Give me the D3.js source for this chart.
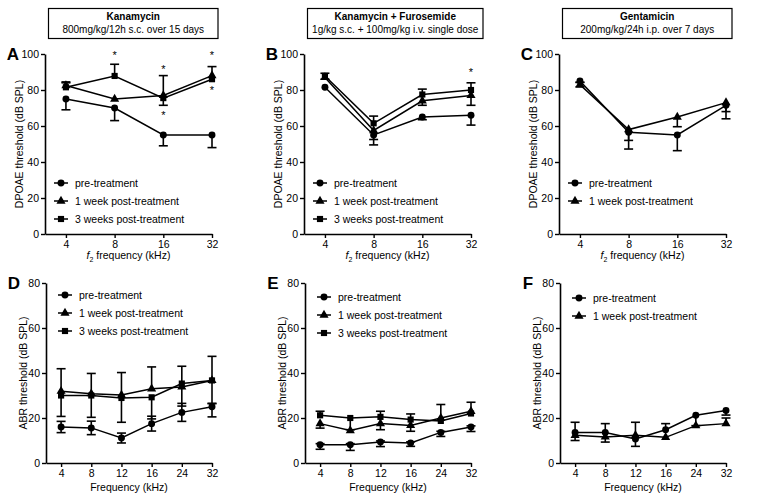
<!DOCTYPE html>
<html><head><meta charset="utf-8">
<script src="https://cdn.jsdelivr.net/npm/d3@7"></script>
<style>body{margin:0;background:#fff;} text{font-family:"Liberation Sans",Arial,sans-serif;fill:#000;}</style>
</head><body><svg id="c" width="759" height="504"></svg>
<script>
// ---------- DATA ----------
const dpoaeFreqs = [4, 8, 16, 32];
const abrFreqs = [4, 8, 12, 16, 24, 32];
const seriesNames = ["pre-treatment", "1 week post-treatment", "3 weeks post-treatment"];
const dpoaeTicks = [0, 20, 40, 60, 80, 100];
const abrTicks = [0, 20, 40, 60, 80];
const panelLetters = ["A", "B", "C", "D", "E", "F"];
const drugTitles = ["Kanamycin", "Kanamycin + Furosemide", "Gentamicin"];
const drugDoses = ["800mg/kg/12h s.c. over 15 days", "1g/kg s.c. + 100mg/kg i.v. single dose", "200mg/kg/24h i.p. over 7 days"];

// Panel A (DPOAE, kanamycin)
const aPre = [75, 70, 55, 55],      aPreLo = [6, 7, 6, 7],   aPreHi = [0, 0, 0, 0];
const aWk1 = [82.5, 75, 77, 88],    aWk1Lo = [0, 0, 0, 0],   aWk1Hi = [1.5, 0, 11, 0];
const aWk3 = [81.5, 87.8, 75.5, 86],aWk3Lo = [0, 0, 4, 0],   aWk3Hi = [3, 6.5, 0, 7];
const aStars = [[8, 100.4], [16, 93], [16, 67.4], [32, 100.4], [32, 81]];
// Panel B (DPOAE, kanamycin + furosemide)
const bPre = [81.5, 55, 65, 66],    bPreLo = [0, 5.5, 1.5, 5.5], bPreHi = [0, 0, 0, 0];
const bWk1 = [87, 57.5, 74, 77],    bWk1Lo = [1, 5, 2.5, 5.5],   bWk1Hi = [0, 0, 0, 0];
const bWk3 = [87.8, 61.5, 77.5, 80],bWk3Lo = [0, 0, 0, 0],       bWk3Hi = [1.5, 4, 3, 4];
const bStars = [[32, 91]];
// Panel C (DPOAE, gentamicin)
const cPre = [85, 56.5, 55, 71.5],  cPreLo = [0.8, 9.3, 8.7, 7.5], cPreHi = [0, 0, 0, 0];
const cWk1 = [83, 58, 65, 73],      cWk1Lo = [1.3, 6, 5.4, 5],     cWk1Hi = [1.3, 0, 0, 0];
// Panel D (ABR, kanamycin)
const dPre = [16, 15.6, 11.1, 17.5, 22.5, 25],   dPreLo = [2.5, 3, 2.2, 3.3, 4, 4.5], dPreHi = [2.5, 3, 2.2, 3.3, 4, 1.5];
const dWk1 = [31.9, 30.8, 30.2, 33, 33.8, 36.7], dWk1Lo = [0, 0, 0, 0, 0, 0],       dWk1Hi = [10, 9, 10, 9.7, 9.2, 10.7];
const dWk3 = [30, 30, 28.9, 29.2, 35.3, 36.7],   dWk3Lo = [9.3, 9.7, 10.8, 9.6, 10, 10.3], dWk3Hi = [0, 0, 0, 0, 0, 0];
// Panel E (ABR, kanamycin + furosemide)
const ePre = [8.1, 8.1, 9.3, 8.9, 13.6, 16],     ePreLo = [2, 2.5, 2, 1.5, 1.8, 2],  ePreHi = [0.5, 0.5, 0.5, 0.5, 0.5, 0.5];
const eWk1 = [17.5, 14.4, 17.5, 16.7, 20, 23],   eWk1Lo = [2, 0, 2.7, 2.6, 0, 0],    eWk1Hi = [0, 0, 0, 0, 6, 0];
const eWk3 = [21.2, 20, 20.5, 19.3, 18.7, 22],   eWk3Lo = [0, 5.2, 0, 0, 0, 0],      eWk3Hi = [1.8, 0, 2.5, 2.5, 0, 5];
// Panel F (ABR, gentamicin)
const fPre = [13.6, 13.6, 10.7, 14.8, 21.2, 23.3], fPreLo = [0, 0, 0, 0, 4.6, 2],  fPreHi = [4.5, 3.9, 7.4, 2.7, 0, 0];
const fWk1 = [12.3, 11.6, 12.3, 11.4, 16.6, 17.5], fWk1Lo = [2.3, 2.3, 4.9, 0, 0, 0], fWk1Hi = [0, 0, 0, 0, 0, 2.5];

// ---------- BUILD ----------
const svg = d3.select("#c");
const FS = 10.5;
const shapes = [d3.symbolCircle, d3.symbolTriangle, d3.symbolSquare];
const sizes = [38, 36, 38];

function mk(vals, lo, hi) { return {vals, lo, hi}; }

const panels = [
  {type: "dpoae", x0: 45, x1: 212, series: [mk(aPre,aPreLo,aPreHi), mk(aWk1,aWk1Lo,aWk1Hi), mk(aWk3,aWk3Lo,aWk3Hi)], stars: aStars},
  {type: "dpoae", x0: 304, x1: 471, series: [mk(bPre,bPreLo,bPreHi), mk(bWk1,bWk1Lo,bWk1Hi), mk(bWk3,bWk3Lo,bWk3Hi)], stars: bStars},
  {type: "dpoae", x0: 559, x1: 726, series: [mk(cPre,cPreLo,cPreHi), mk(cWk1,cWk1Lo,cWk1Hi)], stars: []},
  {type: "abr", x0: 46, x1: 212, series: [mk(dPre,dPreLo,dPreHi), mk(dWk1,dWk1Lo,dWk1Hi), mk(dWk3,dWk3Lo,dWk3Hi)], stars: []},
  {type: "abr", x0: 305, x1: 471, series: [mk(ePre,ePreLo,ePreHi), mk(eWk1,eWk1Lo,eWk1Hi), mk(eWk3,eWk3Lo,eWk3Hi)], stars: []},
  {type: "abr", x0: 560, x1: 726, series: [mk(fPre,fPreLo,fPreHi), mk(fWk1,fWk1Lo,fWk1Hi)], stars: []},
];

panels.forEach((p, pi) => {
  const top = p.type === "dpoae";
  const yBot = top ? 234 : 463, yTop = top ? 54 : 283;
  const y = d3.scaleLinear().domain(top ? [0, 100] : [0, 80]).range([yBot, yTop]);
  let x, freqs, axisScale;
  if (top) {
    freqs = dpoaeFreqs;
    const s = d3.scaleLog().base(2).domain([4 / Math.pow(2, 0.43), 32]).range([p.x0, p.x1]);
    x = (f, i) => s(f);
    axisScale = s;
  } else {
    freqs = abrFreqs;
    const s = d3.scaleLinear().domain([-0.5, abrFreqs.length - 1]).range([p.x0, p.x1]);
    x = (f, i) => s(i);
    axisScale = s;
  }
  const g = svg.append("g");

  // axes
  const yAx = d3.axisLeft(y).tickValues(top ? dpoaeTicks : abrTicks).tickSize(4).tickSizeOuter(0).tickPadding(2);
  const gy = g.append("g").attr("transform", `translate(${p.x0},0)`).call(yAx);
  let xAx;
  if (top) xAx = d3.axisBottom(axisScale).tickValues(dpoaeFreqs).tickFormat(d3.format("d"));
  else xAx = d3.axisBottom(axisScale).tickValues(d3.range(abrFreqs.length)).tickFormat(i => abrFreqs[i]);
  xAx.tickSize(4).tickSizeOuter(0).tickPadding(3);
  const gx = g.append("g").attr("transform", `translate(0,${yBot})`).call(xAx);
  [gx, gy].forEach(a => {
    a.select(".domain").attr("stroke", "#000").attr("stroke-width", 1.6);
    a.selectAll(".tick line").attr("stroke", "#000").attr("stroke-width", 1.4);
    a.selectAll(".tick text").attr("font-size", FS).attr("font-family", "Liberation Sans, Arial, sans-serif").attr("fill", "#000");
  });

  // axis titles
  const midX = (p.x0 + p.x1) / 2;
  if (top) {
    const t = g.append("text").attr("x", midX).attr("y", 259).attr("text-anchor", "middle").attr("font-size", FS);
    t.append("tspan").attr("font-style", "italic").text("f");
    t.append("tspan").attr("font-size", 7).attr("dy", 3).text("2");
    t.append("tspan").attr("dy", -3).text(" frequency (kHz)");
  } else {
    g.append("text").attr("x", midX).attr("y", 491).attr("text-anchor", "middle").attr("font-size", FS).text("Frequency (kHz)");
  }
  const yl = top ? "DPOAE threshold (dB SPL)" : "ABR threshold (dB SPL)";
  const ylx = p.x0 - (top ? 22 : 19);
  g.append("text").attr("transform", `translate(${ylx},${(yBot + yTop) / 2}) rotate(-90)`)
    .attr("text-anchor", "middle").attr("font-size", FS).text(yl);

  // panel letter
  g.append("text").attr("x", p.x0 - 32).attr("y", yTop + 6).attr("text-anchor", "middle")
    .attr("font-size", 17).attr("font-weight", "bold").text(panelLetters[pi]);

  // lines
  const line = d3.line().x(d => d[0]).y(d => d[1]);
  p.series.forEach((s, si) => {
    const pts = s.vals.map((v, i) => [x(freqs[i], i), y(v)]);
    g.append("path").attr("d", line(pts)).attr("fill", "none").attr("stroke", "#000").attr("stroke-width", 1.5);
  });
  // error bars
  p.series.forEach((s, si) => {
    s.vals.forEach((v, i) => {
      const cx = x(freqs[i], i);
      [[s.hi[i], 1], [s.lo[i], -1]].forEach(([e, dir]) => {
        if (!e) return;
        const ye = y(v + dir * e);
        g.append("line").attr("x1", cx).attr("x2", cx).attr("y1", y(v)).attr("y2", ye).attr("stroke", "#000").attr("stroke-width", 1.6);
        g.append("line").attr("x1", cx - 4.5).attr("x2", cx + 4.5).attr("y1", ye).attr("y2", ye).attr("stroke", "#000").attr("stroke-width", 1.6);
      });
    });
  });
  // markers
  p.series.forEach((s, si) => {
    s.vals.forEach((v, i) => {
      g.append("path").attr("d", d3.symbol().type(shapes[si]).size(sizes[si])())
        .attr("transform", `translate(${x(freqs[i], i)},${y(v)})`).attr("fill", "#000");
    });
  });
  // stars
  p.stars.forEach(([f, v]) => {
    g.append("text").attr("x", axisScale(f)).attr("y", y(v) + 6).attr("text-anchor", "middle").attr("font-size", 11).text("*");
  });

  // legend
  const ly0 = top ? 183 : [295, 297, 298][pi - 3];
  const lstep = 18;
  const la = p.x0 + (top ? 9 : 12), lb = p.x0 + (top ? 23 : 26), lt = p.x0 + (top ? 30 : 33);
  p.series.forEach((s, si) => {
    const ly = ly0 + si * lstep;
    g.append("line").attr("x1", la).attr("x2", lb).attr("y1", ly).attr("y2", ly).attr("stroke", "#000").attr("stroke-width", 1.5);
    g.append("path").attr("d", d3.symbol().type(shapes[si]).size(sizes[si])())
      .attr("transform", `translate(${(la + lb) / 2},${ly})`).attr("fill", "#000");
    g.append("text").attr("x", lt).attr("y", ly + 3.8).attr("font-size", FS).text(seriesNames[si]);
  });

  // header box
  if (top) {
    const bx0 = p.x0 + 3.5, bx1 = [218, 483, 732][pi];
    g.append("rect").attr("x", bx0).attr("y", 8.5).attr("width", bx1 - bx0).attr("height", 30)
      .attr("fill", "none").attr("stroke", "#000").attr("stroke-width", 1.2);
    g.append("text").attr("x", (bx0 + bx1) / 2).attr("y", 20).attr("text-anchor", "middle")
      .attr("font-size", 10).attr("font-weight", "bold").text(drugTitles[pi]);
    g.append("text").attr("x", (bx0 + bx1) / 2).attr("y", 33).attr("text-anchor", "middle")
      .attr("font-size", 10).text(drugDoses[pi]);
  }
});
</script></body></html>
